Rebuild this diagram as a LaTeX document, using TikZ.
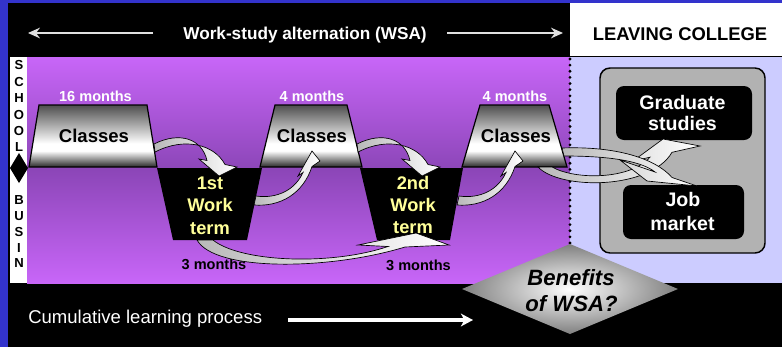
\documentclass[tikz,border=0pt]{standalone}
\usepackage{fontspec}
\setmainfont{Liberation Sans}
\usetikzlibrary{arrows.meta,shapes.geometric}
\definecolor{frameblue}{RGB}{51,51,204}
\definecolor{vtop}{RGB}{200,102,248}
\definecolor{vmid}{RGB}{140,70,184}
\definecolor{lav}{RGB}{204,204,255}
\definecolor{boxgray}{RGB}{178,178,178}
\definecolor{wtyellow}{RGB}{255,255,153}
\definecolor{cdark}{RGB}{40,40,40}
\definecolor{ctopc}{RGB}{78,78,78}
\pgfdeclareverticalshading{classsh}{100bp}{color(0bp)=(cdark); color(25bp)=(cdark); color(38bp)=(white); color(44bp)=(white); color(75bp)=(ctopc); color(100bp)=(ctopc)}
\newcommand{\myfs}[1]{\fontsize{#1}{#1}\selectfont}
\begin{document}
\begin{tikzpicture}[x=0.75pt,y=-0.75pt,
  lbl/.style={inner sep=0pt, anchor=base},
  sletter/.style={inner sep=0pt, font=\bfseries\myfs{9.8}},
  classbox/.style={shading=classsh, draw=black, line width=0.9pt},
  wtbox/.style={fill=black},
  carrow/.style={left color=gray!55, right color=white, draw=black, line width=0.5pt},
  toparrow/.style={draw=white!88!black, line width=1.1pt, -{Stealth[length=9pt,width=8pt,inset=3pt]}},
  cumarrow/.style={draw=white, line width=2.4pt, -{Stealth[length=9pt,width=9.5pt,inset=2.5pt]}},
  monthlbl/.style={lbl, font=\bfseries\myfs{10.9}},
  classlbl/.style={lbl, font=\bfseries\myfs{13.9}},
  wtlbl/.style={lbl, text=wtyellow, font=\bfseries\myfs{13.7}},
  outlbl/.style={lbl, text=white, font=\bfseries\myfs{14.7}},
  benlbl/.style={lbl, font=\bfseries\itshape\myfs{16.6}}
]
\useasboundingbox (0,0) rectangle (782,347);
% background
\fill[black] (0,0) rectangle (782,347);
\fill[frameblue] (0,0) rectangle (8,347);
\fill[frameblue] (0,0) rectangle (782,2.5);
\fill[white] (570,3) rectangle (782,56);
\shade[top color=vtop, bottom color=vtop, middle color=vmid] (27,57) rectangle (570,283);
\fill[white] (10,57) rectangle (27,283);
\fill[lav] (570,57) rectangle (782,283);
\fill[black] (19,153) -- (28,168) -- (19,183) -- (10,168) -- cycle;
% dotted separator
\draw[black, line width=2.3pt, line cap=round, dash pattern=on 0pt off 4.6pt] (570,59) -- (570,244);
% top arrows and titles
\node[lbl, text=white, font=\bfseries\myfs{12.9}] (wsa) at (305,39) {Work-study alternation (WSA)};
\coordinate (la1) at (153,33); \coordinate (la2) at (28,33);
\coordinate (ra1) at (447,33); \coordinate (ra2) at (563,33);
\draw[toparrow] (la1) -- (la2);
\draw[toparrow] (ra1) -- (ra2);
\node[lbl, font=\bfseries\myfs{13.8}] (leave) at (680,40.6) {LEAVING COLLEGE};
% SCHOOL / BUSIN letters
\node[sletter] (s1) at (19,65) {S};
\node[sletter] (s2) at (19,82) {C};
\node[sletter] (s3) at (19,98) {H};
\node[sletter] (s4) at (19,115) {O};
\node[sletter] (s5) at (19,131) {O};
\node[sletter] (s6) at (19,147) {L};
\node[sletter] (b1) at (19,200) {B};
\node[sletter] (b2) at (19,216) {U};
\node[sletter] (b3) at (19,232) {S};
\node[sletter] (b4) at (19,248) {I};
\node[sletter] (b5) at (19,263) {N};
% outcome box
\draw[fill=boxgray, line width=1.1pt, rounded corners=7.5pt] (600,68) rectangle (765,253);
\fill[black, rounded corners=6pt] (616,86) rectangle (752,140);
\fill[black, rounded corners=6pt] (623,185) rectangle (744,239);
\node[outlbl] (g1) at (682.5,109.3) {Graduate};
\node[outlbl] (g2) at (682.5,130.8) {studies};
\node[outlbl] (j1) at (683,206.7) {Job};
\node[outlbl] (j2) at (682.5,230) {market};
% classes
\path[classbox] (29,167) -- (39,105) -- (147,105) -- (157,167) -- cycle;
\path[classbox] (260,167) -- (275,105) -- (347,105) -- (362,167) -- cycle;
\path[classbox] (462,167) -- (480,105) -- (549,105) -- (567,167) -- cycle;
\node[classlbl] (c1) at (94,142.7) {Classes};
\node[classlbl] (c2) at (312,142.7) {Classes};
\node[classlbl] (c3) at (516,142.7) {Classes};
\node[monthlbl, text=white] (m1) at (95.5,101.5) {16 months};
\node[monthlbl, text=white] (m2) at (312,101.5) {4 months};
\node[monthlbl, text=white] (m3) at (515,101.5) {4 months};
% work terms
\path[wtbox] (157,168) -- (262,168) -- (247,240) -- (173,240) -- cycle;
\path[wtbox] (360,168) -- (463,168) -- (450,240) -- (377,240) -- cycle;
\node[wtlbl] (w1a) at (210,189.3) {1st};
\node[wtlbl] (w1b) at (210,211.7) {Work};
\node[wtlbl] (w1c) at (210,234) {term};
\node[wtlbl] (w2a) at (413,189.3) {2nd};
\node[wtlbl] (w2b) at (413,211.5) {Work};
\node[wtlbl] (w2c) at (413,233.5) {term};
\node[monthlbl] (m4) at (214,269) {3 months};
\node[monthlbl] (m5) at (418.5,270) {3 months};
% curved arrows
\path[carrow] (154,144) .. controls (180,131) and (202,139) .. (207,160.5) -- (199,159) -- (219,176) -- (237,167) -- (225,164.5) .. controls (214,144) and (184,137) .. (155,152) -- cycle;
\begin{scope}[xshift=152.25pt]
\path[carrow] (154,144) .. controls (180,131) and (202,139) .. (207,160.5) -- (199,159) -- (219,176) -- (237,167) -- (225,164.5) .. controls (214,144) and (184,137) .. (155,152) -- cycle;
\end{scope}
\path[carrow] (256,196) .. controls (277,199) and (295,190) .. (303,172.5) -- (298,176) -- (312,151) -- (320,161) -- (312,166.5) .. controls (303,194) and (280,207) .. (254,205) -- cycle;
\begin{scope}[xshift=152.25pt]
\path[carrow] (256,196) .. controls (277,199) and (295,190) .. (303,172.5) -- (298,176) -- (312,151) -- (320,161) -- (312,166.5) .. controls (303,194) and (280,207) .. (254,205) -- cycle;
\end{scope}
\path[carrow] (197,240) .. controls (215,272) and (330,270) .. (405,247) -- (449,245) -- (416,233) -- (358,245) -- (388,246.5) .. controls (330,266) and (240,262) .. (213,240) -- cycle;
% arrows to outcomes
\path[carrow] (538,167) .. controls (560,190) and (650,190) .. (672,152.3) -- (700,146) -- (663,139) -- (633,161) -- (650,157.2) .. controls (630,180) and (575,180) .. (552,167) -- cycle;
\path[carrow] (562,148) .. controls (615,146) and (655,158) .. (672,177.5) -- (697,186) -- (647,181) -- (620,160) -- (655,172) .. controls (640,160) and (605,156) .. (564,156) -- cycle;
% benefits diamond
\shade[inner color=white, outer color=black!50] (570,244) -- (678,289) -- (570,334) -- (462,289) -- cycle;
\node[benlbl] (ben1) at (571,285) {Benefits};
\node[benlbl] (ben2) at (571.5,311.7) {of WSA?};
% cumulative learning
\node[lbl, anchor=base west, text=white, font=\myfs{13.9}] (cum) at (28,323.3) {Cumulative learning process};
\coordinate (ca1) at (288,320); \coordinate (ca2) at (473,320);
\draw[cumarrow] (ca1) -- (ca2);
\end{tikzpicture}
\end{document}
